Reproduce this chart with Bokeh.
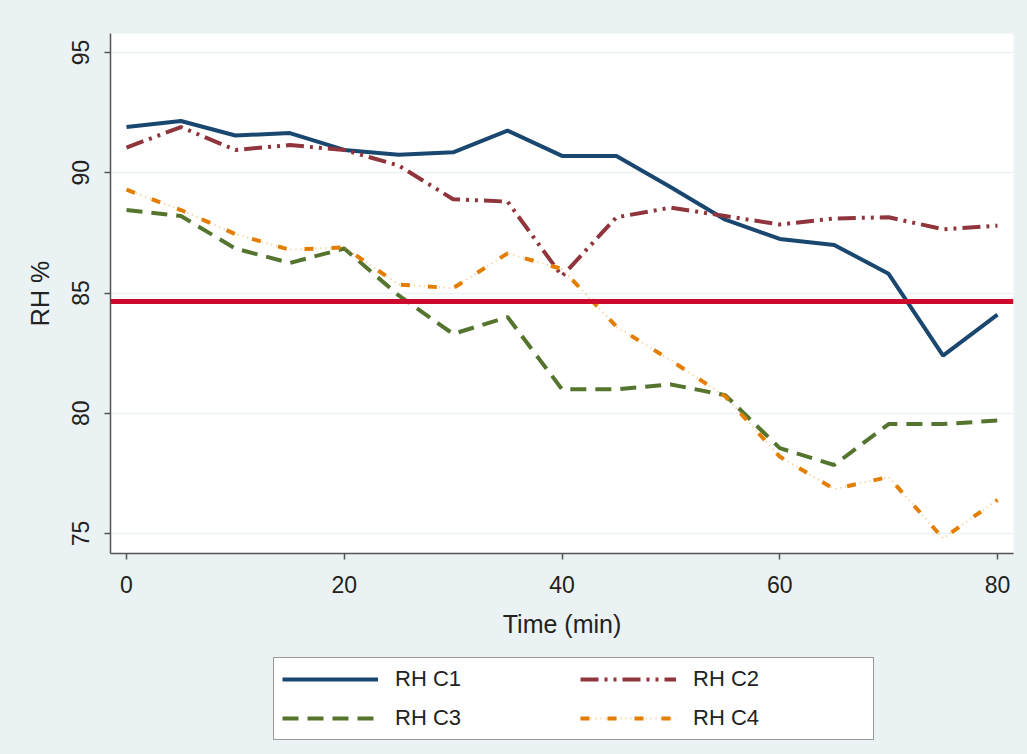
from bokeh.plotting import figure
from bokeh.models import Legend, LegendItem, Range1d, FixedTicker, Span
from bokeh.layouts import column
from bokeh.embed import file_html
from bokeh.resources import INLINE

time_min = [0, 5, 10, 15, 20, 25, 30, 35, 40, 45, 50, 55, 60, 65, 70, 75, 80]
rh_c1 = [91.9, 92.15, 91.55, 91.65, 90.95, 90.75, 90.85, 91.75, 90.7, 90.7, 89.4, 88.05, 87.25, 87.0, 85.8, 82.4, 84.1]
rh_c2 = [91.05, 91.9, 90.95, 91.15, 90.95, 90.3, 88.9, 88.8, 85.7, 88.15, 88.55, 88.2, 87.85, 88.1, 88.15, 87.65, 87.8]
rh_c3 = [88.45, 88.2, 86.85, 86.25, 86.85, 84.9, 83.3, 84.0, 81.0, 81.0, 81.2, 80.75, 78.55, 77.85, 79.55, 79.55, 79.7]
rh_c4 = [89.3, 88.45, 87.45, 86.8, 86.9, 85.35, 85.2, 86.65, 86.0, 83.6, 82.2, 80.7, 78.2, 76.85, 77.35, 74.8, 76.4]
threshold = 84.65

series_names = ["RH C1", "RH C2", "RH C3", "RH C4"]
x_ticks = [0, 20, 40, 60, 80]
y_ticks = [75, 80, 85, 90, 95]

FONT = "Liberation Sans"
BG = "#EAF2F3"
TXT = "#222222"

STYLES = {
    "RH C1": [dict(line_color="#1A476F", line_width=4)],
    "RH C2": [dict(line_color="#90353B", line_width=4, line_dash="18 6 3 6 3 6")],
    "RH C3": [dict(line_color="#55752F", line_width=4, line_dash="16 9")],
    "RH C4": [dict(line_color="#E8A33A", line_width=2, line_dash="1 4", line_alpha=0.6),
              dict(line_color="#E37E00", line_width=4, line_dash="9 18")],
}
DATA = {"RH C1": rh_c1, "RH C2": rh_c2, "RH C3": rh_c3, "RH C4": rh_c4}

# ---------------- main plot ----------------
p = figure(width=1027, height=650, output_backend="svg", toolbar_location=None,
           x_range=Range1d(-1.47, 81.47), y_range=Range1d(74.17, 95.79),
           min_border_left=110, min_border_right=14, min_border_top=33, min_border_bottom=97)
p.background_fill_color = "white"
p.border_fill_color = BG
p.outline_line_color = None

p.xgrid.grid_line_color = None
p.ygrid.grid_line_color = BG
p.ygrid.grid_line_width = 1.5

for ax in (p.xaxis[0], p.yaxis[0]):
    ax.axis_line_color = "#555555"
    ax.axis_line_width = 1.5
    ax.major_tick_line_color = "#555555"
    ax.major_tick_line_width = 1.5
    ax.major_tick_out = 6
    ax.major_tick_in = 0
    ax.minor_tick_line_color = None
    ax.major_label_text_font = FONT
    ax.major_label_text_font_size = "23px"
    ax.major_label_text_color = TXT
    ax.axis_label_text_font = FONT
    ax.axis_label_text_font_size = "25px"
    ax.axis_label_text_font_style = "normal"
    ax.axis_label_text_color = TXT

p.xaxis.ticker = FixedTicker(ticks=x_ticks)
p.yaxis.ticker = FixedTicker(ticks=y_ticks)
p.yaxis.major_label_orientation = "vertical"
p.xaxis.axis_label = "Time (min)"
p.yaxis.axis_label = "RH %"
p.xaxis.major_label_standoff = 16
p.xaxis.axis_label_standoff = 14
p.yaxis.major_label_standoff = 15
p.yaxis.axis_label_standoff = 16

ref = Span(location=threshold, dimension="width", line_color="#CD0A2C", line_width=5)
p.add_layout(ref)

for name in series_names:
    for st in STYLES[name]:
        p.line(time_min, DATA[name], **st)

# ---------------- legend strip ----------------
lg = figure(width=1027, height=104, output_backend="svg", toolbar_location=None,
            x_axis_type=None, y_axis_type=None,
            x_range=Range1d(1000, 1001), y_range=Range1d(1000, 1001),
            min_border=0)
lg.background_fill_color = BG
lg.border_fill_color = BG
lg.outline_line_color = None
lg.xgrid.grid_line_color = None
lg.ygrid.grid_line_color = None

rend = {}
for name in series_names:
    rend[name] = [lg.line(time_min, DATA[name], **st) for st in STYLES[name]]

# column-major fill: first column C1, C3; second column C2, C4
order = ["RH C1", "RH C3", "RH C2", "RH C4"]
legend = Legend(items=[LegendItem(label=n, renderers=rend[n]) for n in order],
                ncols=2, location=(163, 14))
legend.label_text_font = FONT
legend.label_text_font_size = "22px"
legend.label_text_color = TXT
legend.glyph_width = 96
legend.glyph_height = 20
legend.label_height = 20
legend.label_width = 172
legend.label_standoff = 17
legend.spacing = 13
legend.padding = 8
legend.margin = 0
legend.border_line_color = "#333333"
legend.border_line_width = 1.5
legend.background_fill_color = "white"
legend.background_fill_alpha = 1.0
lg.add_layout(legend, "center")

layout = column(p, lg, spacing=0, styles={"background-color": BG})
open("out.html", "w").write(file_html(layout, INLINE))
